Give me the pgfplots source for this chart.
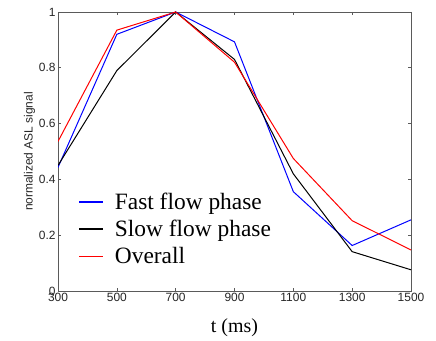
\documentclass[border=0pt]{standalone}
\usepackage{pgfplots}
\pgfplotsset{compat=1.18}
\usepackage{fontspec}
\setmainfont{Liberation Serif}
\newfontfamily\helv{Liberation Sans}
\definecolor{axgray}{RGB}{90,90,90}
\begin{document}
\begin{tikzpicture}
\begin{axis}[
  name=ax,
  scale only axis,
  width=353bp, height=279bp,
  xmin=300, xmax=1500, ymin=0, ymax=1,
  xtick={300,500,700,900,1100,1300,1500},
  ytick={0,0.2,0.4,0.6,0.8,1},
  yticklabels={0,0.2,0.4,0.6,0.8,1},
  scaled ticks=false,
  /pgf/number format/1000 sep={},
  tick align=inside,
  major tick length=3bp,
  axis line style={axgray, line width=0.9pt},
  tick style={axgray, line width=0.6pt},
  ticklabel style={font=\fontsize{12}{12}\helv, text=black!85},
  /pgf/number format/assume math mode=true,
  xticklabel style={yshift=1bp},
  yticklabel style={xshift=1bp},
  xlabel={t (ms)},
  xlabel style={font=\fontsize{20}{20}\selectfont, yshift=-10bp},
  ylabel={normalized ASL signal},
  ylabel style={font=\fontsize{12}{12}\helv, text=black!85, yshift=-3bp},
  legend style={draw=none, fill=none, inner sep=0bp,
    font=\fontsize{23.5}{27}\selectfont,
    at={(axis description cs:0.057,0.222)}, anchor=west,
    row sep=5.5bp,
    /tikz/every odd column/.append style={column sep=9bp}},
  legend cell align=left,
  legend image post style={xscale=1.41, line width=1.6pt},
]
\addplot[blue, line width=1pt] coordinates {
(300,0.443) (500,0.92) (700,1.0) (900,0.893) (1100,0.356) (1300,0.163) (1500,0.255)};
\addlegendentry{Fast flow phase}
\addplot[black, line width=1pt] coordinates {
(300,0.45) (500,0.79) (700,1.0) (900,0.83) (1100,0.42) (1300,0.141) (1500,0.076)};
\addlegendentry{Slow flow phase}
\addplot[red, line width=1pt] coordinates {
(300,0.536) (500,0.935) (700,1.0) (900,0.82) (1100,0.475) (1300,0.252) (1500,0.147)};
\addlegendentry{Overall}
\end{axis}
\path ([xshift=-58bp,yshift=-50bp]ax.south west) rectangle ([xshift=25bp,yshift=12bp]ax.north east);
\end{tikzpicture}
\end{document}
